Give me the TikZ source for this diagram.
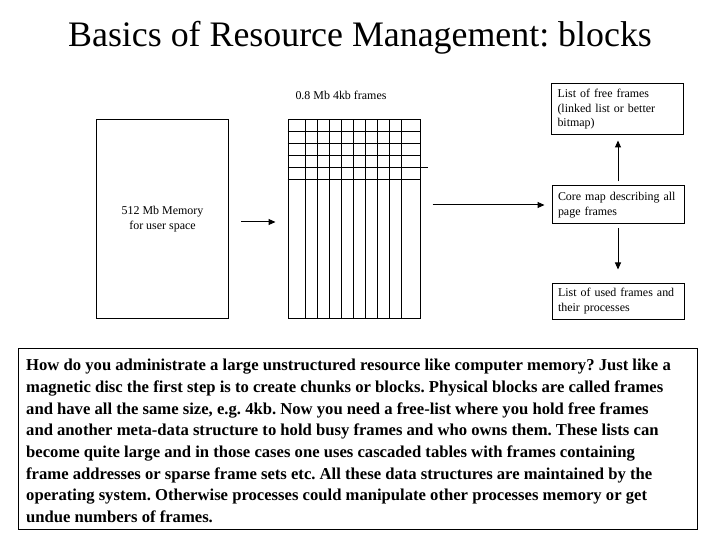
\documentclass[tikz,border=0pt]{standalone}
\usepackage{fontspec}
\setmainfont{Liberation Serif}
\usetikzlibrary{arrows.meta}
\frenchspacing
\tikzset{
  lw/.style={line width=1bp},
  lbl/.style={font=\fontsize{12}{14.5}\selectfont, inner sep=0pt},
  box/.style={draw, lw, inner sep=0pt},
  listbox/.style={draw, lw, inner xsep=6bp, inner ysep=0pt, text width=120bp, align=left, font=\fontsize{12}{14.5}\selectfont},
  arr/.style={lw, -{Triangle[length=7bp,width=6bp]}},
  titlestyle/.style={font=\fontsize{36}{40}\selectfont, inner sep=0pt},
  descbox/.style={draw, lw, inner sep=0pt, minimum width=679bp, minimum height=181bp},
  desctext/.style={inner sep=0pt, align=left, font=\bfseries\fontsize{16.7}{21.7}\selectfont}
}
\begin{document}
\begin{tikzpicture}[x=1bp,y=-1bp]
\useasboundingbox (0,0) rectangle (720,540);
\fill[white] (0,0) rectangle (720,540);
\node[titlestyle] (title) at (360,38) {Basics of Resource Management: blocks};
\node[lbl] (framelbl) at (341,95) {0.8 Mb 4kb frames};
\node[box, minimum width=132bp, minimum height=198bp, align=center, font=\fontsize{12}{14.5}\selectfont] (mem) at (162.5,219) {512 Mb Memory\\for user space};
\node[box, minimum width=132bp, minimum height=198bp] (grid) at (354,219) {};
\foreach \x in {18,30,...,114}
  \draw[lw] ([xshift=\x bp]grid.north west) -- ([xshift=\x bp]grid.south west);
\foreach \y in {12,24,36,60}
  \draw[lw] ([yshift=-\y bp]grid.north west) -- ([yshift=-\y bp]grid.north east);
\draw[lw] ([yshift=-48bp]grid.north west) -- ([xshift=7bp,yshift=-48bp]grid.north east);
\node[listbox, minimum height=51bp] (free) at (617.5,109.5) {List of free frames\\(linked list or better\\bitmap)};
\node[listbox, minimum height=38bp] (core) at (618,205) {Core map describing all\\page frames};
\node[listbox, minimum height=36bp] (used) at (618,301) {List of used frames and\\their processes};
\draw[arr, shorten <=12bp, shorten >=12bp] ([yshift=-3bp]mem.east) -- ([yshift=-3bp]grid.west);
\draw[arr, shorten <=12bp, shorten >=7bp] (grid.east |- core.west) -- (core.west);
\draw[arr, shorten <=4bp, shorten >=5bp] (core.north) -- (core.north |- free.south);
\draw[arr, shorten <=4bp, shorten >=13bp] (core.south) -- (core.south |- used.north);
\node[descbox, anchor=north west] (desc) at (18,348) {};
\node[desctext, anchor=west] (desctxt) at ([xshift=8bp,yshift=-2bp]desc.west) {How do you administrate a large unstructured resource like computer memory? Just like a\\
magnetic disc the first step is to create chunks or blocks. Physical blocks are called frames\\
and have all the same size, e.g. 4kb. Now you need a free-list where you hold free frames\\
and another meta-data structure to hold busy frames and who owns them. These lists can\\
become quite large and in those cases one uses cascaded tables with frames containing\\
frame addresses or sparse frame sets etc. All these data structures are maintained by the\\
operating system. Otherwise processes could manipulate other processes memory or get\\
undue numbers of frames.};
\end{tikzpicture}
\end{document}
